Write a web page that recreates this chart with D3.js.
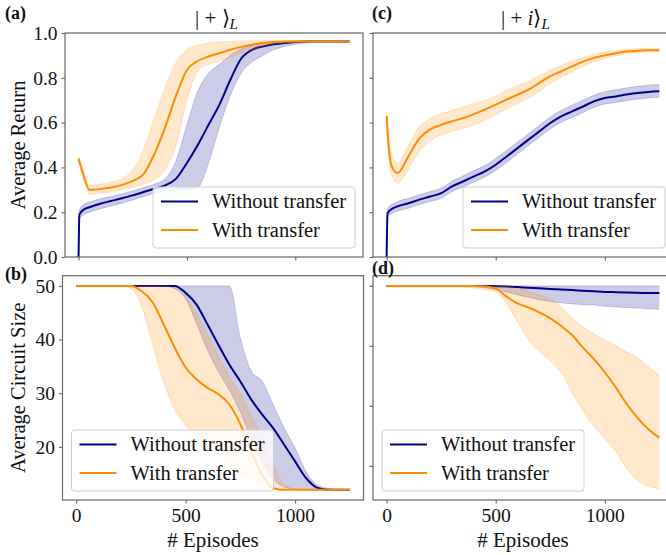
<!DOCTYPE html>
<html><head><meta charset="utf-8">
<script src="https://cdn.jsdelivr.net/npm/d3@7"></script>
<style>body{margin:0;background:#fff} svg{display:block}</style>
</head><body>
<svg id="chart" width="666" height="555"></svg>
<script>
// ---------------- data ----------------
const episodes = [0,4,25,50,100,150,200,250,300,350,400,450,500,550,600,650,700,750,800,850,900,950,1000,1050,1100,1150,1200,1250];
const seriesNames = ["Without transfer", "With transfer"];
const xTicks = [0, 500, 1000];
const returnTicks = [0.0, 0.2, 0.4, 0.6, 0.8, 1.0];
const sizeTicks = [20, 30, 40, 50];
const titles = ["| + ⟩", "| + i⟩"];
const panelLabels = ["(a)", "(b)", "(c)", "(d)"];

// (a) |+>_L  average return
const retPlusNoMean  = [0,0.19,0.212,0.222,0.238,0.25,0.262,0.275,0.29,0.305,0.32,0.35,0.42,0.50,0.59,0.68,0.79,0.885,0.925,0.94,0.95,0.955,0.96,0.962,0.962,0.962,0.962,0.962];
const retPlusNoHi    = [0,0.21,0.235,0.245,0.26,0.27,0.282,0.295,0.31,0.325,0.35,0.43,0.59,0.74,0.82,0.86,0.90,0.93,0.945,0.955,0.96,0.963,0.965,0.965,0.965,0.965,0.965,0.965];
const retPlusNoLo    = [0,0.17,0.19,0.2,0.215,0.228,0.24,0.255,0.27,0.285,0.295,0.30,0.30,0.31,0.42,0.58,0.72,0.82,0.87,0.90,0.925,0.94,0.95,0.955,0.96,0.96,0.96,0.96];
const retPlusTrMean  = [0.44,0.425,0.36,0.30,0.303,0.31,0.322,0.34,0.37,0.46,0.58,0.72,0.835,0.875,0.895,0.91,0.925,0.938,0.948,0.955,0.96,0.962,0.962,0.962,0.962,0.962,0.962,0.962];
const retPlusTrHi    = [0.45,0.44,0.38,0.32,0.325,0.335,0.35,0.39,0.48,0.62,0.76,0.87,0.925,0.945,0.955,0.96,0.963,0.965,0.965,0.965,0.965,0.965,0.965,0.965,0.965,0.965,0.965,0.965];
const retPlusTrLo    = [0.43,0.41,0.34,0.28,0.285,0.29,0.30,0.31,0.325,0.345,0.39,0.50,0.70,0.83,0.86,0.875,0.89,0.91,0.925,0.94,0.95,0.955,0.96,0.96,0.96,0.96,0.96,0.96];

// (c) |+i>_L  average return
const retINoMean = [0,0.195,0.215,0.226,0.24,0.256,0.27,0.285,0.315,0.337,0.36,0.382,0.412,0.449,0.486,0.524,0.561,0.598,0.628,0.65,0.672,0.695,0.71,0.717,0.725,0.732,0.737,0.74];
const retINoHi   = [0,0.215,0.235,0.248,0.262,0.278,0.292,0.308,0.338,0.362,0.386,0.408,0.44,0.476,0.513,0.55,0.588,0.625,0.655,0.678,0.7,0.722,0.738,0.747,0.755,0.762,0.767,0.77];
const retINoLo   = [0,0.175,0.195,0.205,0.218,0.234,0.248,0.262,0.292,0.313,0.335,0.357,0.386,0.422,0.46,0.498,0.535,0.572,0.602,0.623,0.645,0.668,0.683,0.69,0.698,0.705,0.71,0.713];
const retITrMean = [0.63,0.56,0.40,0.375,0.45,0.53,0.57,0.59,0.606,0.62,0.638,0.658,0.68,0.703,0.725,0.747,0.777,0.807,0.829,0.851,0.872,0.889,0.9,0.91,0.917,0.921,0.923,0.923];
const retITrHi   = [0.64,0.60,0.45,0.42,0.50,0.58,0.62,0.64,0.655,0.67,0.685,0.70,0.72,0.745,0.765,0.785,0.81,0.835,0.855,0.875,0.89,0.905,0.915,0.922,0.927,0.93,0.93,0.93];
const retITrLo   = [0.62,0.52,0.36,0.33,0.39,0.47,0.52,0.545,0.56,0.575,0.59,0.61,0.635,0.66,0.685,0.71,0.74,0.775,0.80,0.825,0.85,0.87,0.885,0.898,0.906,0.912,0.916,0.917];

// (b) |+>_L  average circuit size
const sizePlusNoMean = [50,50,50,50,50,50,50,50,50,50,50,50,48.7,46.5,42.8,39.0,35.3,32.2,28.8,26.0,23.5,20.4,17.3,14.2,12.4,12.0,12.0,12.0];
const sizePlusNoHi   = [50,50,50,50,50,50,50,50,50,50,50,50,50,50,50,50,50,40.3,34.1,32.2,27.9,23.5,19.8,15.4,12.9,12.3,12.1,12.0];
const sizePlusNoLo   = [50,50,50,50,50,50,50,50,50,50,50,49.5,47.5,43,38,34,30.5,26.5,21.5,17,14,12.5,12.1,12,12,12,12,12];
const sizePlusTrMean = [50,50,50,50,50,50,50,50,49.0,46.9,42.8,38.5,34.8,32.6,31.0,29.8,27.9,24.2,19.2,14.8,12.3,12,12,12,12,12,12,12];
const sizePlusTrHi   = [50,50,50,50,50,50,50,50,50,50,50,49.5,48,45,41,37,33,30,26,22,17,13,12.2,12,12,12,12,12];
const sizePlusTrLo   = [50,50,50,50,50,50,50,49.5,46,39,32,27,24,22,20,18.5,17,15.5,14,12.8,12.2,12,12,12,12,12,12,12];

// (d) |+i>_L  average circuit size
const sizeINoMean = [50,50,50,50,50,50,50,50,50,50,50,50,49.95,49.9,49.8,49.7,49.6,49.5,49.4,49.3,49.2,49.1,49.0,48.95,48.9,48.85,48.8,48.8];
const sizeINoHi   = [50,50,50,50,50,50,50,50,50,50,50,50,50,50,50,50,50,50,50,50,50,50,50,50,50,50,50,50];
const sizeINoLo   = [50,50,50,50,50,50,50,50,50,50,49.9,49.7,49.4,49.0,48.5,48.1,47.7,47.4,47.2,47.0,46.9,46.8,46.6,46.5,46.4,46.3,46.2,46.1];
const sizeITrMean = [50,50,50,50,50,50,50,50,50,50,50,49.9,49.55,48.2,47.1,46.4,45.6,44.6,43.3,41.8,39.7,37.8,35.6,33.1,30.3,28.0,26.1,24.7];
const sizeITrHi   = [50,50,50,50,50,50,50,50,50,50,50,50,50,49.9,49.6,49.1,48.5,47.8,46.5,44.7,43.2,42,41,40,39,38,36.5,35];
const sizeITrLo   = [49.8,49.8,49.8,49.8,49.8,49.8,49.8,49.8,49.8,49.8,49.6,49.4,49,47,44,41,39,37.5,35.5,32.2,29.2,26.6,24.5,22.4,19.6,17.6,16.6,16.2];

// ---------------- drawing ----------------
const svg = d3.select("#chart");
const FONT = "'Liberation Serif','Times New Roman',serif";
const SPINE = "#666";
const colors = ["#00008b", "#ff8c00"];

const panels = [
  {label: panelLabels[0], left: 65, right: 363, top: 33, bottom: 257, ydom: [0, 1], yticks: returnTicks, ylabels: true, xlabels: false,
   fmt: d3.format(".1f"), series: [[retPlusNoMean, retPlusNoLo, retPlusNoHi], [retPlusTrMean, retPlusTrLo, retPlusTrHi]],
   legendPos: "lr", title: titles[0], ylab: "Average Return", labelPos: [5, 19]},
  {label: panelLabels[2], left: 373, right: 673, top: 33, bottom: 257, ydom: [0, 1], yticks: returnTicks, ylabels: false, xlabels: false,
   fmt: d3.format(".1f"), series: [[retINoMean, retINoLo, retINoHi], [retITrMean, retITrLo, retITrHi]],
   legendPos: "lr", title: titles[1], labelPos: [372, 19]},
  {label: panelLabels[1], left: 62.5, right: 363.5, top: 275.7, bottom: 500, ydom: [10.1, 51.9], yticks: sizeTicks, ylabels: true, xlabels: true,
   fmt: d3.format("d"), series: [[sizePlusNoMean, sizePlusNoLo, sizePlusNoHi], [sizePlusTrMean, sizePlusTrLo, sizePlusTrHi]],
   legendPos: "ll", ylab: "Average Circuit Size", labelPos: [5, 280]},
  {label: panelLabels[3], left: 373, right: 673, top: 275.7, bottom: 500, ydom: [14.3, 51.7], yticks: sizeTicks, ylabels: false, xlabels: true,
   fmt: d3.format("d"), series: [[sizeINoMean, sizeINoLo, sizeINoHi], [sizeITrMean, sizeITrLo, sizeITrHi]],
   legendPos: "ll", labelPos: [372, 274]}
];

panels.forEach((p, pi) => {
  const x = d3.scaleLinear().domain([-62.5, 1312.5]).range([p.left, p.right]);
  const y = d3.scaleLinear().domain(p.ydom).range([p.bottom, p.top]);
  const clipId = "clip" + pi;
  svg.append("clipPath").attr("id", clipId).append("rect")
    .attr("x", p.left).attr("y", p.top).attr("width", p.right - p.left).attr("height", p.bottom - p.top);
  const g = svg.append("g").attr("clip-path", `url(#${clipId})`);

  p.series.forEach((s, si) => {
    const [mean, lo, hi] = s;
    const pts = episodes.map((e, i) => ({e, m: mean[i], lo: lo[i], hi: hi[i]}));
    const area = d3.area().x(d => x(d.e)).y0(d => y(d.lo)).y1(d => y(d.hi)).curve(d3.curveMonotoneX);
    g.append("path").datum(pts).attr("d", area).attr("fill", colors[si]).attr("fill-opacity", 0.2);
    ["lo", "hi"].forEach(k => {
      g.append("path").datum(pts)
        .attr("d", d3.line().x(d => x(d.e)).y(d => y(d[k])).curve(d3.curveMonotoneX))
        .attr("fill", "none").attr("stroke", colors[si]).attr("stroke-opacity", 0.18).attr("stroke-width", 1);
    });
    g.append("path").datum(pts)
      .attr("d", d3.line().x(d => x(d.e)).y(d => y(d.m)).curve(d3.curveMonotoneX))
      .attr("fill", "none").attr("stroke", colors[si]).attr("stroke-width", 2);
  });

  // frame
  svg.append("rect").attr("x", p.left).attr("y", p.top).attr("width", p.right - p.left).attr("height", p.bottom - p.top)
    .attr("fill", "none").attr("stroke", SPINE).attr("stroke-width", 1.2);

  // y axis
  const ya = d3.axisLeft(y).tickValues(p.yticks).tickSize(3.5).tickPadding(4)
    .tickFormat(p.ylabels ? p.fmt : () => "");
  const yg = svg.append("g").attr("transform", `translate(${p.left},0)`).call(ya);
  yg.select(".domain").remove();
  yg.selectAll("line").attr("stroke", SPINE).attr("stroke-width", 1.1);
  yg.selectAll("text").attr("font-family", FONT).attr("font-size", 19.5).attr("fill", "#111");

  // x axis
  const xa = d3.axisBottom(x).tickValues(xTicks).tickSize(3.5).tickPadding(5)
    .tickFormat(p.xlabels ? d3.format("d") : () => "");
  const xg = svg.append("g").attr("transform", `translate(0,${p.bottom})`).call(xa);
  xg.select(".domain").remove();
  xg.selectAll("line").attr("stroke", SPINE).attr("stroke-width", 1.1);
  xg.selectAll("text").attr("font-family", FONT).attr("font-size", 19.5).attr("fill", "#111");

  if (p.xlabels) {
    svg.append("text").attr("x", (p.left + Math.min(p.right, 673)) / 2).attr("y", 547)
      .attr("text-anchor", "middle").attr("font-family", FONT).attr("font-size", 21).attr("fill", "#111")
      .text("# Episodes");
  }
  if (p.ylab) {
    svg.append("text").attr("transform", `translate(25,${(p.top + p.bottom) / 2}) rotate(-90)`)
      .attr("text-anchor", "middle").attr("font-family", FONT).attr("font-size", 20.5).attr("fill", "#111")
      .text(p.ylab);
  }
  if (p.title) {
    const t = svg.append("text").attr("x", 0).attr("y", 25)
      .attr("font-family", FONT).attr("font-size", 21).attr("fill", "#111");
    p.title.split(/(i)/).filter(s => s.length).forEach(run => {
      const ts = t.append("tspan").text(run);
      if (run === "i") ts.attr("font-style", "italic");
    });
    t.append("tspan").attr("font-style", "italic").attr("font-size", 15).attr("dy", 4).text("L");
    const w = t.node().getComputedTextLength();
    t.attr("x", Math.round((p.left + p.right) / 2 + 2 - w / 2));
  }
  svg.append("text").attr("x", p.labelPos[0]).attr("y", p.labelPos[1])
    .attr("font-family", FONT).attr("font-weight", "bold").attr("font-size", 18).attr("fill", "#111")
    .text(p.label);

  // legend
  const lw = 202, lh = 61;
  const lx = p.legendPos === "lr" ? p.right - 8 - lw : p.left + 9;
  const ly = p.bottom - 9 - lh;
  const lg = svg.append("g").attr("transform", `translate(${lx},${ly})`);
  lg.append("rect").attr("width", lw).attr("height", lh).attr("rx", 3)
    .attr("fill", "#fff").attr("fill-opacity", 0.8).attr("stroke", "#d0d0d0").attr("stroke-width", 1);
  seriesNames.forEach((n, i) => {
    const yy = 14.5 + i * 28.5;
    lg.append("line").attr("x1", 8).attr("x2", 45).attr("y1", yy).attr("y2", yy)
      .attr("stroke", colors[i]).attr("stroke-width", 2);
    lg.append("text").attr("x", 59).attr("y", yy + 6.5).attr("font-family", FONT).attr("font-size", 20.5)
      .attr("fill", "#111").text(n);
  });
});
</script>
</body></html>
